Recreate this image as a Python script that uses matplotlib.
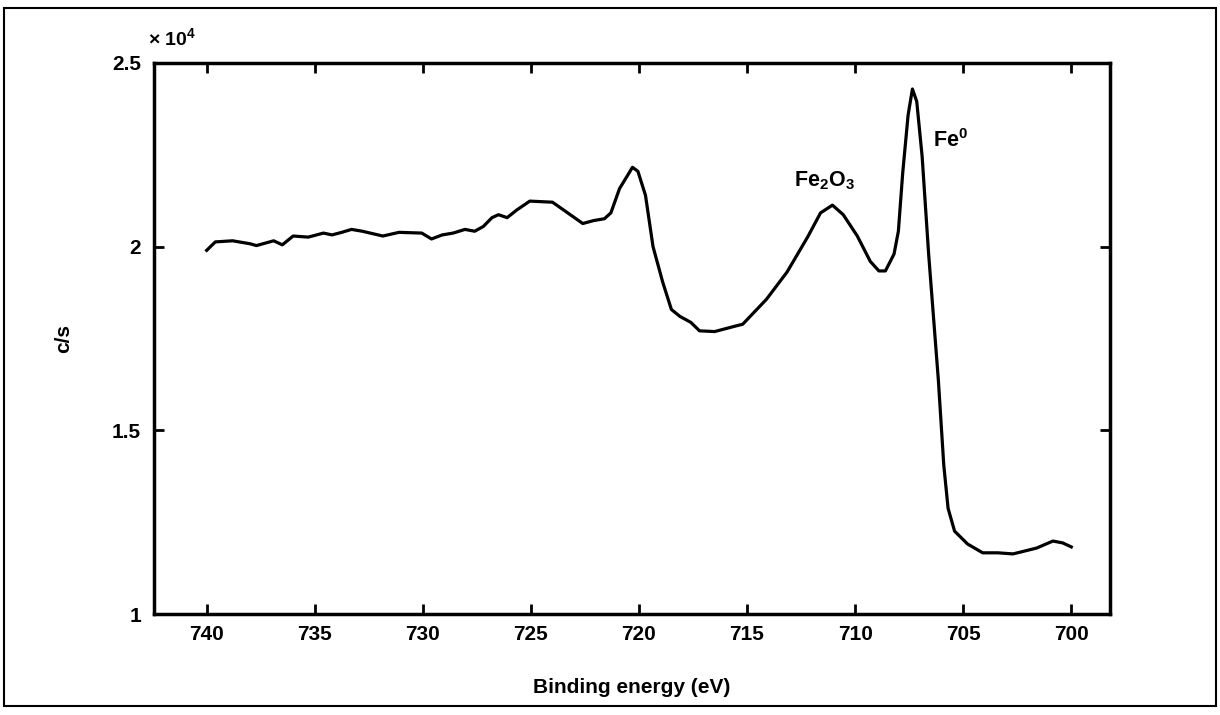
import matplotlib
matplotlib.use('Agg')
import matplotlib.pyplot as plt
from matplotlib.patches import Rectangle
from matplotlib.ticker import FuncFormatter

# Fe 2p spectrum (c/s)
energy = [740.0, 739.6, 738.8, 738.0, 737.7, 736.9, 736.5, 736.0, 735.3, 734.6,
          734.2, 733.75, 733.3, 732.8, 731.85, 731.1, 730.05, 729.6, 729.1, 728.6,
          728.05, 727.6, 727.2, 726.8, 726.5, 726.1, 725.65, 725.05, 724.0, 723.3,
          722.6, 722.1, 721.6, 721.3, 720.9, 720.3, 720.05, 719.7, 719.35, 718.9,
          718.5, 718.1, 717.6, 717.2, 716.5, 715.6, 715.2, 714.1, 713.15, 712.2,
          711.6, 711.05, 710.55, 709.9, 709.3, 708.9, 708.6, 708.2, 708.0, 707.8,
          707.55, 707.35, 707.15, 706.9, 706.6, 706.15, 705.9, 705.7, 705.4, 704.8,
          704.1, 703.4, 702.7, 702.35, 701.6, 700.85, 700.4, 700.0]
counts = [19900, 20130, 20160, 20080, 20030, 20160, 20050, 20290, 20260, 20370,
          20320, 20390, 20470, 20420, 20290, 20390, 20370, 20210, 20320, 20370,
          20470, 20420, 20550, 20790, 20870, 20790, 21000, 21240, 21210, 20920,
          20630, 20710, 20760, 20920, 21580, 22160, 22050, 21400, 20000, 19030,
          18290, 18100, 17940, 17710, 17690, 17830, 17890, 18570, 19310, 20260,
          20920, 21130, 20870, 20290, 19600, 19340, 19340, 19800, 20420, 22000,
          23580, 24290, 23950, 22450, 19800, 16370, 14060, 12880, 12260, 11910,
          11670, 11670, 11640, 11690, 11800, 11990, 11940, 11830]

xticks = [740, 735, 730, 725, 720, 715, 710, 705, 700]
yticks = [10000, 15000, 20000, 25000]

plt.rcParams['font.family'] = ['Liberation Sans', 'DejaVu Sans']
plt.rcParams['font.weight'] = 'bold'
plt.rcParams['axes.labelweight'] = 'bold'
plt.rcParams['mathtext.default'] = 'regular'

fig = plt.figure(figsize=(12.2, 7.15), dpi=100)
ax = fig.add_axes([0.126, 0.141, 0.784, 0.771])

ax.plot(energy, counts, color='black', linewidth=2.3)

ax.set_xlim(742.45, 698.2)
ax.set_ylim(10000, 25000)
ax.set_xticks(xticks)
ax.set_yticks(yticks)
ax.yaxis.set_major_formatter(FuncFormatter(lambda v, p: f'{v / 1e4:g}'))
ax.tick_params(direction='in', top=True, right=True, length=7, width=2,
               labelsize=15)
ax.tick_params(axis='x', pad=8)
ax.tick_params(axis='y', pad=9)
for s in ax.spines.values():
    s.set_linewidth(2.5)

ax.set_xlabel('Binding energy (eV)', fontsize=15, labelpad=24)
ax.set_ylabel('c/s', fontsize=15, labelpad=28)

ax.text(711.4, 21800, 'Fe$_2$O$_3$', fontsize=15.5, ha='center', va='center')
ax.text(705.6, 22900, 'Fe$^0$', fontsize=15.5, ha='center', va='center')

fig.text(0.141, 0.947, '× 10$^4$', fontsize=14, ha='center', va='center')

# scanned page border
fig.patches.append(Rectangle((0.003, 0.013), 0.994, 0.976, transform=fig.transFigure,
                             fill=False, edgecolor='black', linewidth=1.5))

plt.savefig('out.png', dpi=100)
